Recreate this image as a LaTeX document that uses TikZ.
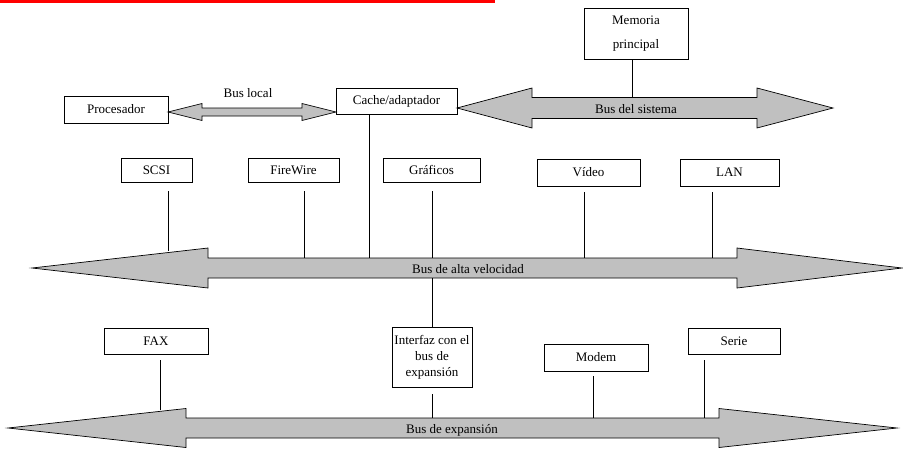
\documentclass[tikz,border=0pt]{standalone}
\usepackage{fontspec}
\setmainfont{Liberation Serif}
\usetikzlibrary{calc}
\definecolor{busgray}{RGB}{192,192,192}
\definecolor{topred}{RGB}{255,0,0}

% Double-headed bus arrow:
% #1 left tip x, #2 left head back x, #3 right head back x, #4 right tip x,
% #5 centre y, #6 half height of the heads, #7 half height of the shaft
\newcommand\busarrow[7]{%
  \path[bus] (#1,#5) -- (#2,{#5-#6}) -- (#2,{#5-#7}) -- (#3,{#5-#7})
    -- (#3,{#5-#6}) -- (#4,#5) -- (#3,{#5+#6}) -- (#3,{#5+#7})
    -- (#2,{#5+#7}) -- (#2,{#5+#6}) -- cycle;}

\begin{document}
\begin{tikzpicture}[x=1pt,y=-1pt,
  box/.style={draw, line width=0.7pt, inner sep=0pt, align=center,
    font=\fontsize{13}{16}\selectfont},
  bus/.style={draw, fill=busgray, line width=0.7pt, line join=miter},
  link/.style={draw, line width=0.7pt},
  buslabel/.style={inner sep=0pt, font=\fontsize{13}{16}\selectfont}]

\useasboundingbox (0,0) rectangle (903,448);

% header rule
\fill[topred] (0,0) rectangle (495,3);

% buses
\busarrow{168}{202}{302}{336}{112}{8.5}{4}
\busarrow{457}{532}{757}{833}{108}{20}{10.5}
\busarrow{32}{208}{737}{902}{268}{20}{10}
\busarrow{8}{186}{719}{897}{428}{19.5}{10}

\node[buslabel] (lblLocal) at (248,93)  {Bus local};
\node[buslabel] (lblSis)   at (636,109) {Bus del sistema};
\node[buslabel] (lblAlta)  at (468,269) {Bus de alta velocidad};
\node[buslabel] (lblExp)   at (452,430) {Bus de expansión};

% top level
\node[box, minimum width=104pt, minimum height=27pt] (proc)  at (116,109.5) {Procesador};
\node[box, minimum width=121pt, minimum height=26pt] (cache) at (396.5,101) {Cache/adaptador};
\node[box, minimum width=104pt, minimum height=51pt] (mem)   at (636,33.5) {Memoria\\[8pt]principal};

% high speed devices
\node[box, minimum width=71pt, minimum height=24pt] (scsi) at (156.5,170) {SCSI};
\node[box, minimum width=91pt, minimum height=24pt] (fw)   at (293.5,170) {FireWire};
\node[box, minimum width=97pt, minimum height=24pt] (gra)  at (431.5,170) {Gráficos};
\node[box, minimum width=103pt, minimum height=27pt] (vid) at (588.5,172.5) {Vídeo};
\node[box, minimum width=99pt, minimum height=27pt] (lan)  at (729.5,172.5) {LAN};

% expansion devices
\node[box, minimum width=104pt, minimum height=26pt] (fax)   at (156,341) {FAX};
\node[box, minimum width=80pt, minimum height=60pt]  (intf)  at (432,357) {Interfaz con el\\bus de\\expansión};
\node[box, minimum width=104pt, minimum height=27pt] (modem) at (596,357.5) {Modem};
\node[box, minimum width=92pt, minimum height=26pt]  (serie) at (734,341) {Serie};

% attachment points on the buses
\coordinate (aMem)  at (632,97.5);
\coordinate (aCache) at (369,258);
\coordinate (aScsi) at (168,251);
\coordinate (aFw)   at (304,258);
\coordinate (aGra)  at (432,258);
\coordinate (aVid)  at (584,258);
\coordinate (aLan)  at (712,258);
\coordinate (aIntfTop) at (432,278);
\coordinate (aFax)  at (160,410);
\coordinate (aIntf) at (432,418);
\coordinate (aModem) at (593,418);
\coordinate (aSerie) at (704,418);

% connectors
\draw[link] (mem.south -| aMem) -- (aMem);
\draw[link] (cache.south -| aCache) -- (aCache);
\draw[link, shorten <=9pt] (scsi.south -| aScsi) -- (aScsi);
\draw[link, shorten <=9pt] (fw.south -| aFw) -- (aFw);
\draw[link, shorten <=9pt] (gra.south -| aGra) -- (aGra);
\draw[link, shorten <=6pt] (vid.south -| aVid) -- (aVid);
\draw[link, shorten <=6pt] (lan.south -| aLan) -- (aLan);
\draw[link] (aIntfTop) -- (intf.north);
\draw[link, shorten <=6pt] (fax.south -| aFax) -- (aFax);
\draw[link, shorten <=7pt] (intf.south) -- (aIntf);
\draw[link, shorten <=5pt] (modem.south -| aModem) -- (aModem);
\draw[link, shorten <=6pt] (serie.south -| aSerie) -- (aSerie);
\end{tikzpicture}
\end{document}
